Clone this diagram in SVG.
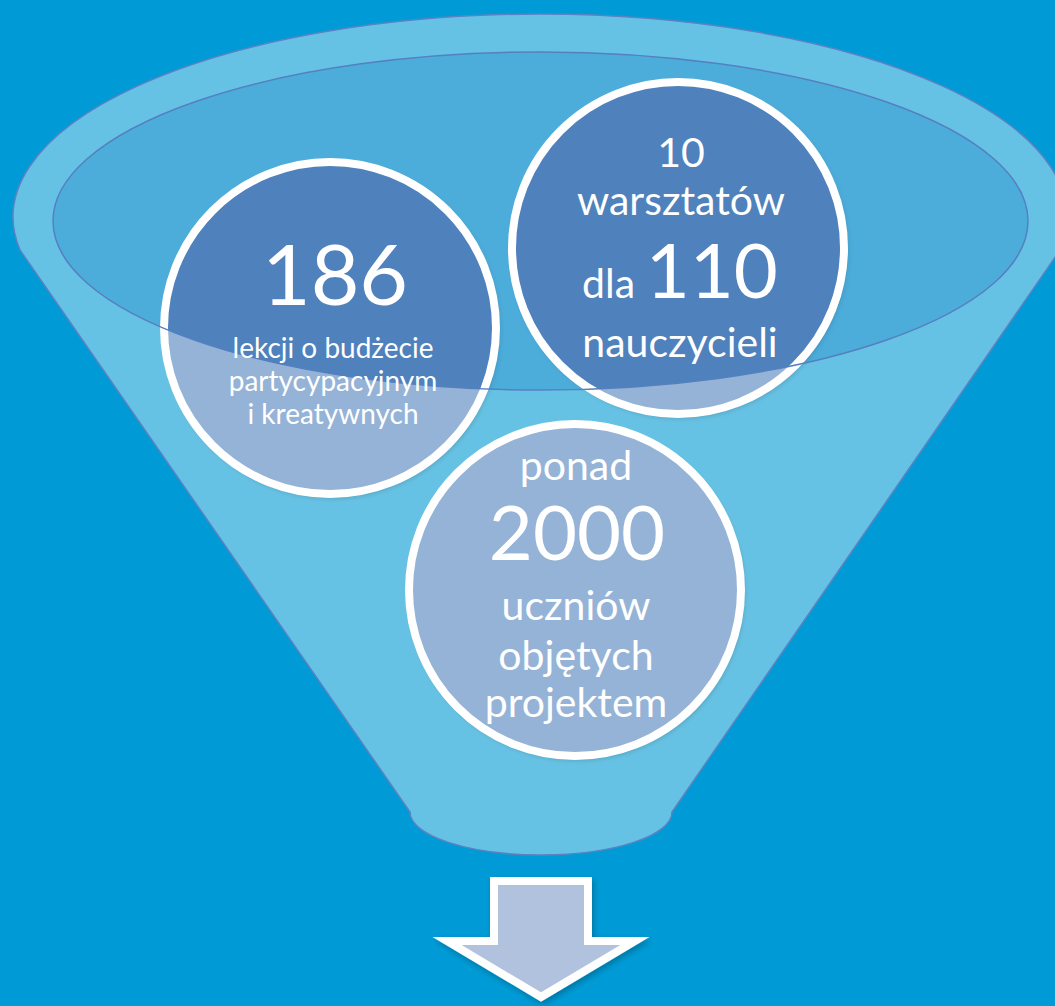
<svg xmlns="http://www.w3.org/2000/svg" width="1055" height="1006" viewBox="0 0 1055 1006">
<defs>
<style>
.t{font-family:Lato,"Open Sans","Liberation Sans",sans-serif;fill:#FFFFFF;text-anchor:middle}
.ring{fill:none;stroke:#FFFFFF;stroke-width:8}
.light{fill:#95B3D7}
.dark{fill:#4F81BD}
</style>
<filter id="sh" x="-10%" y="-10%" width="125%" height="125%">
<feDropShadow dx="2" dy="3" stdDeviation="3" flood-color="#000000" flood-opacity="0.25"/>
</filter>
<clipPath id="inner"><ellipse cx="540.5" cy="221" rx="487.5" ry="169"/></clipPath>
</defs>
<rect x="0" y="0" width="1055" height="1006" fill="#009BD6"/>
<g id="funnel">
<path d="M20,250 A527,203 0 1 1 1060,250 L672,812 A131,43 0 0 1 410,812 Z" fill="#66C2E4" stroke="#5B82C2" stroke-width="1.5"/>
<ellipse cx="540.5" cy="221" rx="487.5" ry="169" fill="#4CACDA"/>
</g>
<g id="node-186">
<circle cx="330" cy="328" r="166" class="light" filter="url(#sh)"/>
<circle cx="330" cy="328" r="166" class="dark" clip-path="url(#inner)"/>
<circle cx="330" cy="328" r="166" class="ring"/>
</g>
<g id="node-110">
<circle cx="678" cy="248" r="166" class="light" filter="url(#sh)"/>
<circle cx="678" cy="248" r="166" class="dark" clip-path="url(#inner)"/>
<circle cx="678" cy="248" r="166" class="ring"/>
</g>
<g id="node-2000">
<circle cx="575" cy="590" r="166" class="light" filter="url(#sh)"/>
<circle cx="575" cy="590" r="166" class="ring"/>
</g>
<ellipse cx="540.5" cy="221" rx="487.5" ry="169" fill="none" stroke="#5580C0" stroke-width="1.5"/>
<g id="labels">
<text class="t" x="335" y="305" font-size="84">186</text>
<text class="t" x="333" y="358" font-size="28">lekcji o budżecie</text>
<text class="t" x="333" y="391" font-size="28">partycypacyjnym</text>
<text class="t" x="333" y="424" font-size="28">i kreatywnych</text>
<text class="t" x="681" y="167" font-size="41">10</text>
<text class="t" x="681" y="215" font-size="41">warsztatów</text>
<text class="t" x="680" y="298"><tspan font-size="41">dla </tspan><tspan font-size="76">110</tspan></text>
<text class="t" x="680" y="357" font-size="41">nauczycieli</text>
<text class="t" x="576" y="480" font-size="41">ponad</text>
<text class="t" x="577" y="560" font-size="76">2000</text>
<text class="t" x="576" y="620" font-size="41">uczniów</text>
<text class="t" x="576" y="670" font-size="41">objętych</text>
<text class="t" x="576" y="717" font-size="41">projektem</text>
</g>
<g id="connectors">
<path d="M494,881 L588,881 L588,941 L635,941 L541,997 L447,941 L494,941 Z" fill="#B0C2DD" stroke="#FFFFFF" stroke-width="8" stroke-miterlimit="10" filter="url(#sh)"/>
</g>
</svg>
